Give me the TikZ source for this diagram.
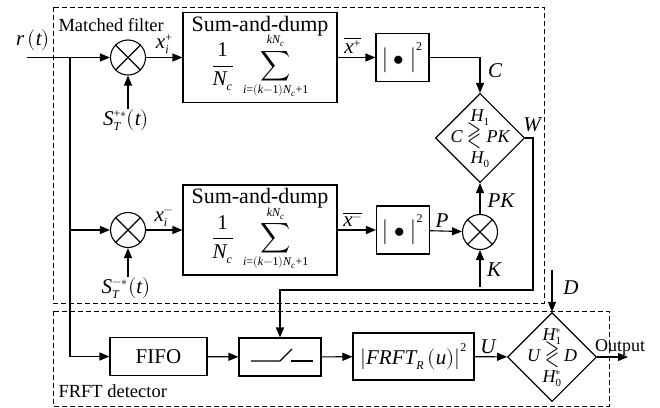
\documentclass[tikz,border=0pt]{standalone}
\usepackage{amsmath}
\usepackage{fontspec}
\setmainfont{Liberation Serif}
\usepackage{unicode-math}
\setmathfont{Latin Modern Math}
\setmathfont[range=it->up]{Liberation Serif Italic}
\setmathfont[range={up/{num},"2B,"3D}]{Liberation Serif}
\usetikzlibrary{shapes.geometric,arrows.meta,positioning,calc}
\DeclareMathSizes{21}{21}{12}{9}
\DeclareMathSizes{18}{18}{11}{8}

\begin{document}
\begin{tikzpicture}[
    x=1pt, y=-1pt,
    line width=1.1pt,
    >={Triangle[length=10pt,width=8pt]},
    font=\rmfamily\fontsize{21}{24}\selectfont,
    block/.style={rectangle, draw, inner sep=0pt},
    mixer/.style={circle, draw, minimum size=35pt, inner sep=0pt},
    decision/.style={diamond, draw, aspect=1, minimum width=89pt, minimum height=89pt, inner sep=0pt},
    rule/.style={font=\rmfamily\fontsize{18}{20}\selectfont, inner sep=0pt},
    region/.style={draw, line width=1pt, dash pattern=on 5pt off 3pt},
    tag/.style={font=\rmfamily\fontsize{18.5}{20}\selectfont, anchor=west, inner sep=0pt},
    sig/.style={inner sep=0pt}
]
    \useasboundingbox (0,0) rectangle (660,407);

    % ---- Matched filter ----
    \draw[region] (53,7) rectangle (544,303);
    \node[tag] at (58,25) {Matched filter};
    \node[sig] (r_lab) at (33,40) {$r\left(t\right)$};
    \coordinate (r_in) at (27,57.5);
    \coordinate (r_jn) at (70,57.5);

    \node[mixer] (mf_m1) at (128,57.5) {};
    \node[mixer] (mf_m2) at (128,230) {};
    \foreach \m in {mf_m1, mf_m2}
        \draw (\m.north west) -- (\m.south east) (\m.north east) -- (\m.south west);
    \node[sig] (mf_s1) at (126,120) {$S_T^{+*}\!\left(t\right)$};
    \node[sig] (mf_s2) at (126,288) {$S_T^{-*}\!\left(t\right)$};

    \node[block, minimum width=154pt, minimum height=90pt, align=center] (mf_sum1) at (260,57.5)
        {{\fontsize{22}{24}\selectfont Sum-and-dump}\\[-4pt]$\dfrac{1}{N_c}\;\displaystyle\sum_{i=(k-1)N_c+1}^{kN_c}$};
    \node[block, minimum width=154pt, minimum height=90pt, align=center] (mf_sum2) at (260,230)
        {{\fontsize{22}{24}\selectfont Sum-and-dump}\\[-4pt]$\dfrac{1}{N_c}\;\displaystyle\sum_{i=(k-1)N_c+1}^{kN_c}$};
    \node[block, minimum width=53pt, minimum height=48pt] (mf_abs1) at (402.5,57.5) {$\bigl|\;\bullet\;\bigr|^2$};
    \node[block, minimum width=53pt, minimum height=48pt] (mf_abs2) at (403,230) {$\bigl|\;\bullet\;\bigr|^2$};

    \node[decision] (mf_dec) at (480,138) {};
    \node[rule] at (mf_dec) {$\begin{array}{@{}c@{}}H_1\\[1pt] C\mathrel{\smash{\scalebox{1}[1.5]{$\gtrless$}}}PK\\[1pt] H_0\end{array}$};
    \node[mixer] (mf_m3) at (480,232) {};
    \draw (mf_m3.north west) -- (mf_m3.south east) (mf_m3.north east) -- (mf_m3.south west);
    \coordinate (mf_k) at (480,287);
    \coordinate (mf_w) at (533,290);

    \draw (r_in) -- (r_jn);
    \draw[->] (r_jn) -- (mf_m1);
    \draw[->] (r_jn |- mf_m2) -- (mf_m2);
    \draw[->] (mf_s1.north -| mf_m1) -- (mf_m1);
    \draw[->] (mf_s2.north -| mf_m2) -- (mf_m2);
    \draw[->] (mf_m1) -- node[sig, above=3pt, pos=0.5] {$x_i^+$} (mf_sum1);
    \draw[->] (mf_m2) -- node[sig, above=3pt, pos=0.5] {$x_i^-$} (mf_sum2);
    \draw[->] (mf_sum1) -- node[sig, above=3pt, pos=0.4] {$\overline{x^+}$} (mf_abs1);
    \draw[->] (mf_sum2) -- node[sig, above=3pt, pos=0.4] {$\overline{x^-}$} (mf_abs2);
    \draw[->] (mf_abs1) -| (mf_dec);
    \draw[->] (mf_abs2) -- (mf_m3);
    \draw[->] (mf_k) -- (mf_m3);
    \draw[->] (mf_m3) -- (mf_dec);
    \node[sig] at (495,71) {$C$};
    \node[sig] at (442,221) {$P$};
    \node[sig] at (501,201) {$PK$};
    \node[sig] at (494,270) {$K$};
    \node[sig] at (532,125) {$W$};

    % ---- FRFT detector ----
    \draw[region] (53,311) rectangle (609,406);
    \node[tag] at (58,391) {FRFT detector};
    \node[block, minimum width=97pt, minimum height=38pt] (fd_fifo) at (158.5,356.5) {FIFO};
    \node[block, minimum width=82pt, minimum height=38pt] (fd_sw) at (280,357) {};
    \draw ([shift={(-29,4)}]fd_sw.center) -- ++(29,0) -- ++(12,-12);
    \draw ([shift={(11,4)}]fd_sw.center) -- ++(22,0);
    \node[block, minimum width=121pt, minimum height=47pt] (fd_frft) at (413.5,356.5) {$\left|FRFT_R\left(u\right)\right|^2$};
    \node[decision] (fd_dec) at (552,357) {};
    \node[rule] at (fd_dec) {$\begin{array}{@{}c@{}}H_1^*\\[1pt] U\mathrel{\smash{\scalebox{1}[1.5]{$\gtrless$}}}D\\[1pt] H_0^*\end{array}$};
    \coordinate (fd_d) at (552,270);
    \coordinate (fd_out) at (628,357);

    \draw[->] (r_jn) |- (fd_fifo);
    \draw[->] (fd_fifo) -- (fd_sw);
    \draw[->] (fd_sw) -- (fd_frft);
    \draw[->] (fd_frft) -- (fd_dec);
    \draw[->] (fd_d) -- (fd_dec);
    \draw[->] (fd_dec) -- (fd_out);
    \draw[->] (mf_dec.east) -| (mf_w) -| (fd_sw.north);
    \node[sig] at (488,347) {$U$};
    \node[sig] at (571,288) {$D$};
    \node[sig, font=\rmfamily\fontsize{18}{20}\selectfont] at (620,347) {Output};
\end{tikzpicture}
\end{document}
